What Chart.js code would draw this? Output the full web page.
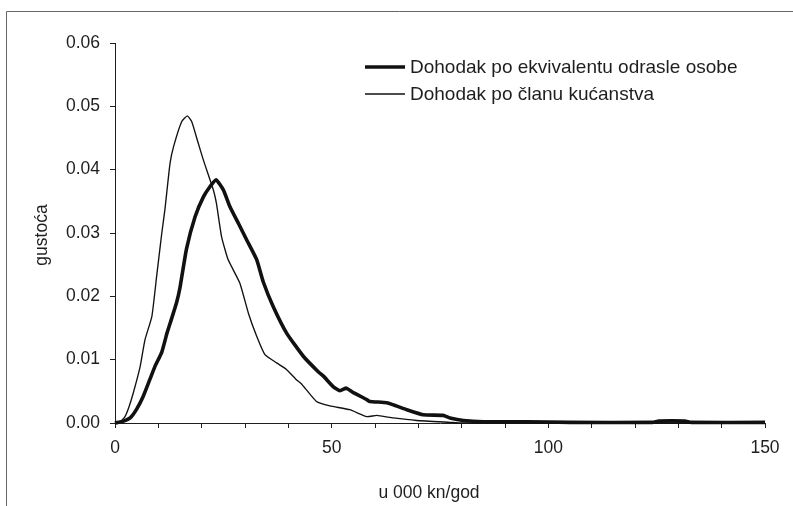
<!DOCTYPE html>
<html>
<head>
<meta charset="utf-8">
<script src="https://cdn.jsdelivr.net/npm/chart.js@4/dist/chart.umd.min.js"></script>
<style>
html,body{margin:0;padding:0;background:#fff;}
#c{display:block;}
</style>
</head>
<body>
<canvas id="c" width="793" height="506"></canvas>
<script>
// Data (x in 000 kn/god, y = density)
const seriesNames = ["Dohodak po ekvivalentu odrasle osobe", "Dohodak po članu kućanstva"];
const xThick = [0, 2, 3.5, 5, 6.5, 8, 9.2, 10.8, 12, 12.7, 14.2, 15.0, 16.5, 18.5, 20.4, 21.9, 23.3, 25.0, 26.5, 28.5, 30.4, 32.7, 34.2, 36.5, 39.6, 43.5, 46.9, 48.1, 50.4, 51.9, 53.4, 55, 58.1, 58.8, 62.7, 64.9, 67.3, 71.1, 75.7, 77.3, 80.4, 85, 95, 105, 124, 125.5, 131.5, 133, 150];
const yThick = [0, 0.0003, 0.0008, 0.0022, 0.0042, 0.0068, 0.0089, 0.0112, 0.0142, 0.0157, 0.019, 0.0214, 0.0275, 0.0326, 0.0357, 0.0373, 0.0384, 0.0368, 0.0342, 0.0315, 0.0289, 0.0258, 0.0223, 0.0184, 0.0142, 0.0105, 0.0081, 0.0074, 0.0057, 0.0051, 0.0055, 0.0048, 0.0037, 0.0034, 0.0032, 0.0027, 0.0021, 0.0013, 0.0012, 0.0008, 0.0004, 0.0002, 0.0002, 0.0001, 0.0001, 0.0003, 0.0003, 0.0001, 0.0001];
const xThin = [0, 1.5, 2.3, 3.2, 4.2, 5.8, 6.9, 8.5, 9.6, 10.8, 11.5, 12.7, 13.5, 15.4, 16.7, 17.7, 19.2, 20.4, 22.7, 23.4, 24.6, 26.1, 28.8, 30.8, 32.7, 34.6, 37.3, 39.5, 41.9, 43, 46.5, 49.6, 54.2, 58.1, 60.4, 64.2, 69.6, 77.3, 80, 150];
const yThin = [0, 0.0004, 0.001, 0.0025, 0.0047, 0.0089, 0.0131, 0.0168, 0.0231, 0.03, 0.0336, 0.041, 0.0436, 0.0476, 0.0485, 0.0476, 0.0442, 0.0415, 0.0368, 0.0347, 0.0294, 0.0258, 0.0221, 0.0173, 0.0137, 0.0108, 0.0095, 0.0085, 0.0068, 0.0062, 0.0034, 0.0027, 0.0021, 0.001, 0.0012, 0.0008, 0.0004, 0.0001, 0, 0];
const xTickLabels = [0, 50, 100, 150];
const yTickLabels = ["0.00", "0.01", "0.02", "0.03", "0.04", "0.05", "0.06"];
const xTitle = "u 000 kn/god";
const yTitle = "gustoća";

const FONT = "'Liberation Sans', Arial, sans-serif";
const INK = "#1e1e1e";

const decor = {
  id: 'decor',
  beforeDraw(chart) {
    const ctx = chart.ctx;
    ctx.save();
    ctx.strokeStyle = '#666';
    ctx.lineWidth = 1;
    ctx.beginPath();
    ctx.moveTo(793, 11.5);
    ctx.lineTo(6.5, 11.5);
    ctx.lineTo(6.5, 506);
    ctx.stroke();
    ctx.restore();
  },
  afterDraw(chart) {
    const ctx = chart.ctx;
    ctx.save();
    ctx.fillStyle = INK;
    ctx.font = "17.5px " + FONT;
    ctx.textAlign = 'center';
    ctx.textBaseline = 'middle';
    ctx.fillText(xTitle, 429, 493);
    ctx.translate(42, 235);
    ctx.rotate(-Math.PI / 2);
    ctx.fillText(yTitle, 0, 0);
    ctx.restore();
    // legend
    ctx.save();
    ctx.font = "19px " + FONT;
    ctx.textAlign = 'left';
    ctx.textBaseline = 'middle';
    const rows = [67, 94];
    chart.data.datasets.forEach((ds, i) => {
      const y = rows[i];
      ctx.strokeStyle = ds.borderColor;
      ctx.lineWidth = ds.borderWidth;
      ctx.beginPath();
      ctx.moveTo(365, y);
      ctx.lineTo(405, y);
      ctx.stroke();
      ctx.fillStyle = INK;
      ctx.fillText(ds.label, 410, y + 1);
    });
    ctx.restore();
  }
};

new Chart(document.getElementById('c'), {
  type: 'line',
  data: {
    datasets: [
      {
        label: seriesNames[0],
        data: xThick.map((x, i) => ({ x: x, y: yThick[i] })),
        borderColor: '#111',
        borderWidth: 3.6,
        pointRadius: 0,
        tension: 0.15,
        clip: 4,
        fill: false
      },
      {
        label: seriesNames[1],
        data: xThin.map((x, i) => ({ x: x, y: yThin[i] })),
        borderColor: '#111',
        borderWidth: 1.35,
        pointRadius: 0,
        tension: 0.15,
        clip: 4,
        fill: false
      }
    ]
  },
  options: {
    responsive: false,
    animation: false,
    events: [],
    layout: { padding: { left: 0, top: 43, right: 28, bottom: 0 } },
    plugins: { legend: { display: false }, tooltip: { enabled: false }, title: { display: false } },
    scales: {
      x: {
        type: 'linear',
        min: 0, max: 150,
        afterFit(s) { s.height = 83; },
        grid: { display: true, drawOnChartArea: false, drawTicks: true, tickLength: 5, color: INK, lineWidth: 1 },
        border: { display: true, color: INK, width: 1 },
        ticks: {
          stepSize: 10,
          autoSkip: false,
          maxRotation: 0,
          padding: 10,
          color: INK,
          font: { family: FONT, size: 17.5 },
          callback: (v) => xTickLabels.includes(v) ? String(v) : ''
        }
      },
      y: {
        min: 0, max: 0.06,
        afterFit(s) { s.width = 115; },
        grid: { display: true, drawOnChartArea: false, drawTicks: true, tickLength: 5, color: INK, lineWidth: 1 },
        border: { display: true, color: INK, width: 1 },
        ticks: {
          stepSize: 0.01,
          padding: 10,
          color: INK,
          font: { family: FONT, size: 17.5 },
          callback: (v) => yTickLabels[Math.round(v * 100)]
        }
      }
    }
  },
  plugins: [decor]
});
</script>
</body>
</html>
